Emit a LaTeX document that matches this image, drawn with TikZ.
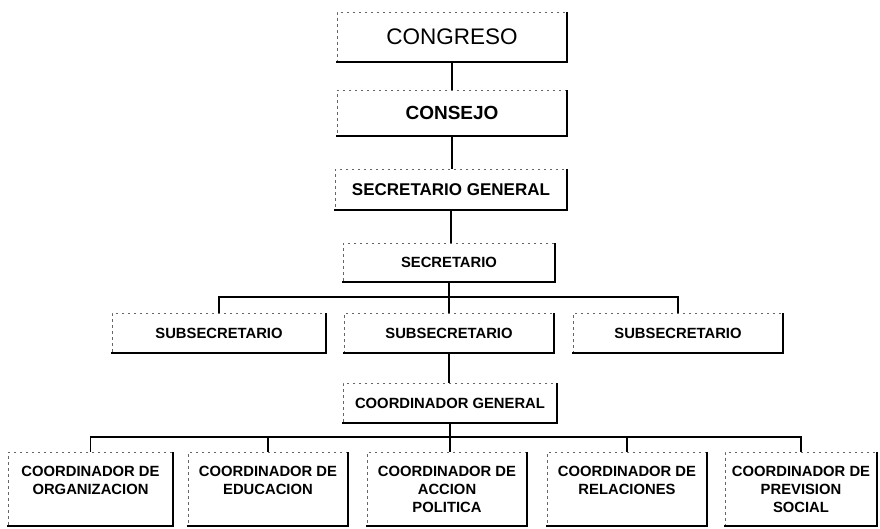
\documentclass[tikz,border=0pt]{standalone}
\usepackage{fontspec}
\setmainfont{Liberation Sans}
\begin{document}
\begin{tikzpicture}[x=1pt,y=-1pt,
  box/.style={draw=black!60, line width=0.5pt, dash pattern=on 2.5pt off 3.5pt,
    inner sep=0pt, align=center, font=\bfseries\fontsize{14.8}{18.3}\selectfont},
  edgeline/.style={line width=2.4pt, black, line cap=rect},
  conn/.style={line width=1.5pt, black},
  btxt/.style={inner sep=0pt, align=center, anchor=north, yshift=-14pt,
    font=\bfseries\fontsize{14.8}{18.3}\selectfont}
]
\useasboundingbox (0,0) rectangle (880,528);
\fill[white] (0,0) rectangle (880,528);

% top column
\node[box, minimum width=230, minimum height=50, font=\fontsize{22.5}{26}\selectfont] (congreso) at (452,37) {CONGRESO};
\node[box, minimum width=230, minimum height=46, font=\bfseries\fontsize{19}{22}\selectfont] (consejo) at (452,113) {CONSEJO};
\node[box, minimum width=232, minimum height=41, font=\bfseries\fontsize{17}{21}\selectfont] (secgen) at (451,189.5) {SECRETARIO GENERAL};
\node[box, minimum width=212, minimum height=39] (secretario) at (449,262.5) {SECRETARIO};

% subsecretarios
\node[box, minimum width=214, minimum height=40] (sub1) at (219,333) {SUBSECRETARIO};
\node[box, minimum width=210, minimum height=40] (sub2) at (449,333) {SUBSECRETARIO};
\node[box, minimum width=210, minimum height=40] (sub3) at (678,333) {SUBSECRETARIO};

% coordinador general
\node[box, minimum width=214, minimum height=40] (coordgen) at (450,403) {COORDINADOR GENERAL};

% bottom row boxes
\node[box, minimum width=165, minimum height=74] (c1) at (90.5,489) {};
\node[box, minimum width=160, minimum height=74] (c2) at (268,489) {};
\node[box, minimum width=160, minimum height=74] (c3) at (447,489) {};
\node[box, minimum width=160, minimum height=74] (c4) at (627,489) {};
\node[box, minimum width=152, minimum height=74] (c5) at (801,489) {};

\node[btxt] (t1) at (c1.north) {COORDINADOR DE\\ORGANIZACION};
\node[btxt] (t2) at (c2.north) {COORDINADOR DE\\EDUCACION};
\node[btxt] (t3) at (c3.north) {COORDINADOR DE\\ACCION\\POLITICA};
\node[btxt] (t4) at (c4.north) {COORDINADOR DE\\RELACIONES};
\node[btxt] (t5) at (c5.north) {COORDINADOR DE\\PREVISION\\SOCIAL};

% heavy right and bottom edges
\foreach \n in {congreso,consejo,secgen,secretario,sub1,sub2,sub3,coordgen,c1,c2,c3,c4,c5}
  \draw[edgeline] ([yshift=-1pt]\n.north east) -- (\n.south east) -- (\n.south west);

% connectors
\coordinate (bus1) at (0,297);
\coordinate (bus2) at (0,437);
\draw[conn] (congreso.south) -- (congreso.south |- consejo.north);
\draw[conn] (consejo.south) -- (consejo.south |- secgen.north);
\draw[conn] (secgen.south) -- (secgen.south |- secretario.north);
\draw[conn] (secretario.south) -- (secretario.south |- sub2.north);
\draw[conn] (sub1.north) -- (sub1.north |- bus1) -- (sub3.north |- bus1) -- (sub3.north);
\draw[conn] (sub2.south) -- (sub2.south |- coordgen.north);
\draw[conn] (coordgen.south) -- (coordgen.south |- c3.north);
\draw[conn] (c1.north) -- (c1.north |- bus2) -- (c5.north |- bus2) -- (c5.north);
\draw[conn] (c2.north) -- (c2.north |- bus2);
\draw[conn] (c4.north) -- (c4.north |- bus2);
\end{tikzpicture}
\end{document}
